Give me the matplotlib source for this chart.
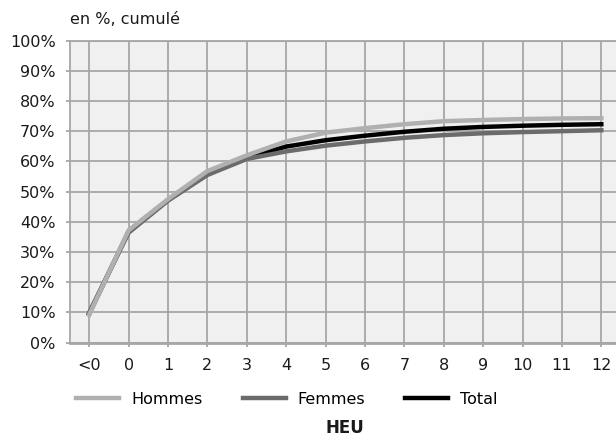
import matplotlib
matplotlib.use('Agg')
import matplotlib.pyplot as plt

plt.rcParams['font.family'] = ['DejaVu Sans']

# valeurs (en %, cumulé)
categories = ['<0', '0', '1', '2', '3', '4', '5', '6', '7', '8', '9', '10', '11', '12']
hommes = [9.2, 37.2, 47.5, 56.8, 62.0, 66.6, 69.5, 71.0, 72.3, 73.3, 73.7, 74.0, 74.2, 74.3]
femmes = [10.0, 36.4, 47.0, 55.5, 60.8, 63.3, 65.2, 66.6, 67.8, 68.7, 69.3, 69.7, 70.0, 70.3]
total = [9.6, 36.8, 47.2, 56.0, 61.2, 64.9, 67.0, 68.5, 69.8, 70.8, 71.4, 71.8, 72.1, 72.3]
yticks = [0, 10, 20, 30, 40, 50, 60, 70, 80, 90, 100]

grid_col = '#a6a6a6'

fig = plt.figure(figsize=(6.16, 4.36), dpi=100)
ax = fig.add_axes([69.5 / 616, 1 - 342.7 / 436, (621 - 69.5) / 616, (342.7 - 40.5) / 436])
ax.set_facecolor('#f0f0f0')

x = list(range(len(categories)))
ax.plot(x, total, color='black', lw=3.2, label='Total', zorder=3)
ax.plot(x, femmes, color='#6b6b6b', lw=3.2, label='Femmes', zorder=4)
ax.plot(x, hommes, color='#b0b0b0', lw=3.2, label='Hommes', zorder=5)

ax.set_xlim(-0.5, 13.5)
ax.set_ylim(0, 100)
ax.set_xticks(x)
ax.set_xticklabels(categories)
ax.set_yticks(yticks)
ax.set_yticklabels([f'{v}%' for v in yticks])

ax.grid(True, color=grid_col, lw=1.3)
ax.set_axisbelow(True)
for side in ['left', 'bottom', 'top', 'right']:
    ax.spines[side].set_color(grid_col)
    ax.spines[side].set_linewidth(1.3)
ax.spines['bottom'].set_linewidth(2)

ax.tick_params(axis='both', colors=grid_col, labelcolor='#1a1a1a', labelsize=11.5, length=3, width=1.3)
ax.tick_params(axis='x', pad=8)
ax.tick_params(axis='y', pad=7)

fig.text(70 / 616, 1 - 19 / 436, 'en %, cumulé', fontsize=11.5, va='center', ha='left', color='#1a1a1a')

handles, labels = ax.get_legend_handles_labels()
order = [2, 1, 0]
fig.legend([handles[i] for i in order], [labels[i] for i in order],
           loc='center', bbox_to_anchor=(287 / 616, 1 - 399 / 436), ncol=3, frameon=False,
           fontsize=11.5, handlelength=2.7, handletextpad=0.75, columnspacing=2.5)

fig.text(345 / 616, 1 - 428 / 436, 'HEU', fontsize=12, fontweight='bold', ha='center', va='center', color='#1a1a1a')

fig.savefig('out.png', dpi=100)
